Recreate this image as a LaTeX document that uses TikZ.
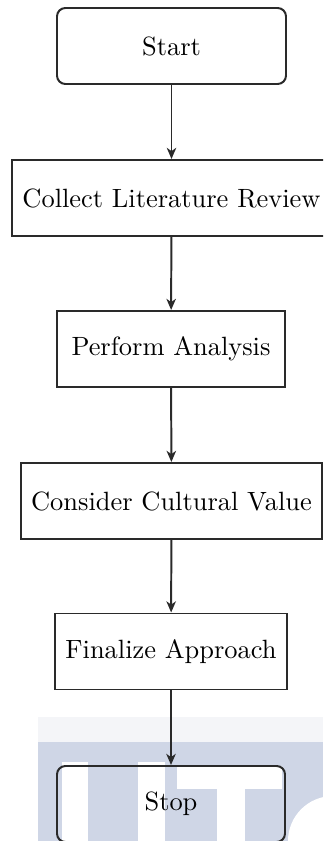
\documentclass[tikz,border=0pt]{standalone}
\usetikzlibrary{arrows.meta}
\newcommand\pxu{0.405pt}
\definecolor{wmblue}{HTML}{CFD6E6}
\definecolor{wmlight}{HTML}{F4F5F8}
\definecolor{edge}{HTML}{2A2A2A}
\tikzset{
  stepbox/.style={draw=edge, line width=0.8pt, rectangle, align=center,
    minimum height={76*\pxu}, inner sep=4pt, font=\fontsize{10.7}{13}\selectfont},
  termbox/.style={stepbox, rounded corners=3.4pt, minimum width={229*\pxu}},
  flow/.style={draw=edge, line width=0.8pt,
    -{Stealth[length=4.5pt,width=3.8pt,inset=1.3pt]}},
}
\begin{document}
\begin{tikzpicture}[x=\pxu, y=-\pxu]
  \useasboundingbox (0,0) rectangle (323,841);
  \clip (0,0) rectangle (323,841);
  % faint watermark behind the last step
  \fill[wmlight] (38,717) rectangle (323,742);
  \fill[wmblue] (38,742) rectangle (323,841);
  \fill[white] (62,762) rectangle (88,841);
  \fill[white] (138,762) rectangle (165,841);
  \fill[white] (177,766) rectangle (282,789);
  \fill[white] (217,789) rectangle (245,841);
  \fill[white] (288,841) arc[start angle=180, end angle=270, radius=45] -- (333,841) -- cycle;
  % process steps
  \node[termbox] (start) at (171.5,46) {Start};
  \node[stepbox, minimum width={319*\pxu}] (collect) at (171.5,198) {Collect Literature Review};
  \node[stepbox, minimum width={228*\pxu}] (analysis) at (171,349) {Perform Analysis};
  \node[stepbox, minimum width={301*\pxu}] (culture) at (171.5,501) {Consider Cultural Value};
  \node[stepbox, minimum width={232*\pxu}] (finalize) at (171,651.5) {Finalize Approach};
  \node[termbox, minimum width={228*\pxu}] (stop) at (171,804) {Stop};
  % connectors
  \draw[flow] (start) -- (collect);
  \draw[flow] (collect) -- (analysis);
  \draw[flow] (analysis) -- (culture);
  \draw[flow] (culture) -- (finalize);
  \draw[flow] (finalize) -- (stop);
\end{tikzpicture}
\end{document}
